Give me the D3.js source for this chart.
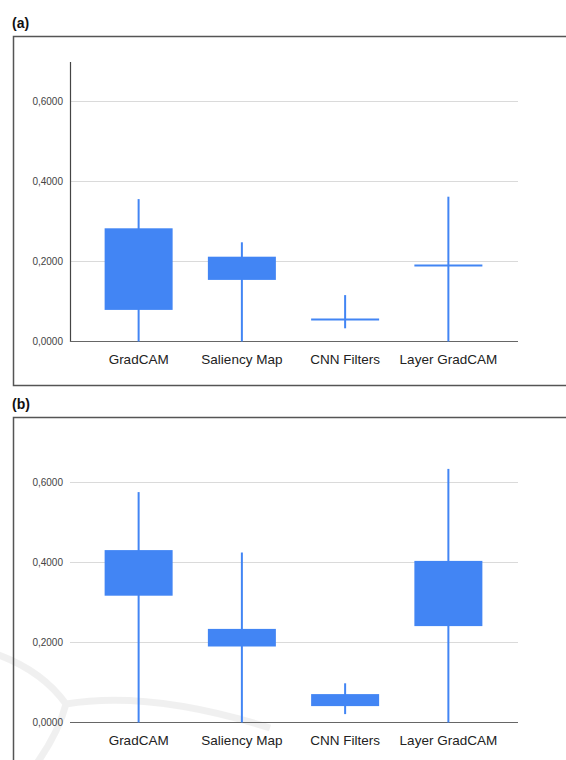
<!DOCTYPE html>
<html>
<head>
<meta charset="utf-8">
<script src="https://cdn.jsdelivr.net/npm/d3@7"></script>
<style>
  body { margin: 0; background: #fff; }
  text { font-family: "Liberation Sans", Arial, sans-serif; }
</style>
</head>
<body>
<div id="chart"></div>
<script>
// Data (candlestick: low, open, close, high)

var categories = ["GradCAM", "Saliency Map", "CNN Filters", "Layer GradCAM"];
var lowA   = [0.000, 0.000, 0.033, 0.000];
var openA  = [0.283, 0.212, 0.055, 0.190];
var closeA = [0.079, 0.154, 0.055, 0.190];
var highA  = [0.356, 0.248, 0.116, 0.362];

var lowB   = [0.000, 0.000, 0.021, 0.000];
var openB  = [0.431, 0.234, 0.071, 0.404];
var closeB = [0.317, 0.190, 0.041, 0.241];
var highB  = [0.576, 0.425, 0.098, 0.634];

var tickValues = [0, 0.2, 0.4, 0.6];
var panels = [
  {label: "(a)", top: 36, low: lowA, open: openA, close: closeA, high: highA, yaxis: true},
  {label: "(b)", top: 417, low: lowB, open: openB, close: closeB, high: highB, yaxis: false}
];

var w = 566;
var h = 760;
var blue = "#4285F4";

var svg = d3.select("#chart")
  .append("svg")
    .attr("width", w)
    .attr("height", h);

var xScale = d3.scaleBand()
  .domain(categories)
  .range([87, 500]);

var xpos = function(c) {
  return xScale(c) + xScale.bandwidth() / 2;
}
var boxW = 68;
var fmt = d => d3.format(".4f")(d).replace(".", ",");

// faint watermark in the lower left
svg.append("path")
  .attr("d", "M-10,652 Q40,668 66,704 Q58,735 32,770 M66,704 Q150,690 270,728")
  .attr("fill", "none")
  .attr("stroke", "#000")
  .attr("stroke-opacity", 0.06)
  .attr("stroke-width", 7);

panels.forEach(function(p) {
  var g = svg.append("g");

  // panel label
  g.append("text")
    .attr("x", 12)
    .attr("y", p.top - 8)
    .attr("font-size", 14)
    .attr("font-weight", "bold")
    .attr("fill", "#111")
    .text(p.label);

  // frame
  g.append("rect")
    .attr("x", 13.5)
    .attr("y", p.top + 0.5)
    .attr("width", 600)
    .attr("height", 349)
    .attr("fill", "none")
    .attr("stroke", "#555")
    .attr("stroke-width", 1.5);

  var yScale = d3.scaleLinear()
    .domain([0, 0.7])
    .range([p.top + 305.5, p.top + 25.5]);

  // gridlines
  g.selectAll("line.grid")
    .data(tickValues.slice(1))
    .enter()
    .append("line")
    .attr("x1", 70)
    .attr("x2", 518)
    .attr("y1", d => yScale(d))
    .attr("y2", d => yScale(d))
    .attr("stroke", "#dadada")
    .attr("stroke-width", 1);

  // y axis
  var yAxis = d3.axisLeft(yScale)
    .tickValues(tickValues)
    .tickFormat(fmt)
    .tickSize(0)
    .tickPadding(7);
  var ya = g.append("g")
    .attr("transform", "translate(70,0)")
    .call(yAxis);
  ya.selectAll("text")
    .attr("font-size", 10)
    .attr("fill", "#444");
  ya.select(".domain")
    .attr("stroke", p.yaxis ? "#444" : "none")
    .attr("stroke-width", 1.2);

  // x axis baseline + labels
  g.append("line")
    .attr("x1", 70)
    .attr("x2", 518)
    .attr("y1", yScale(0))
    .attr("y2", yScale(0))
    .attr("stroke", "#666")
    .attr("stroke-width", 1.2);

  var xAxis = d3.axisBottom(xScale).tickSize(0).tickPadding(13);
  var xa = g.append("g")
    .attr("transform", `translate(0,${yScale(0)})`)
    .call(xAxis);
  xa.select(".domain").remove();
  xa.selectAll("text")
    .attr("font-size", 13.5)
    .attr("fill", "#222");

  var rows = categories.map((c, i) => ({
    c: c, low: p.low[i], open: p.open[i], close: p.close[i], high: p.high[i]
  }));

  var marks = g.selectAll("g.mark")
    .data(rows)
    .enter()
    .append("g");

  // whiskers
  marks.append("line")
    .attr("x1", d => xpos(d.c))
    .attr("x2", d => xpos(d.c))
    .attr("y1", d => yScale(d.high))
    .attr("y2", d => yScale(d.low))
    .attr("stroke", blue)
    .attr("stroke-width", 2);

  // boxes
  marks.append("rect")
    .attr("x", d => xpos(d.c) - boxW / 2)
    .attr("width", boxW)
    .attr("y", d => yScale(Math.max(d.open, d.close)))
    .attr("height", d => Math.max(2, yScale(Math.min(d.open, d.close)) - yScale(Math.max(d.open, d.close))))
    .attr("fill", blue)
    .attr("transform", d => d.open == d.close ? "translate(0,-1)" : null);
});
</script>
</body>
</html>
